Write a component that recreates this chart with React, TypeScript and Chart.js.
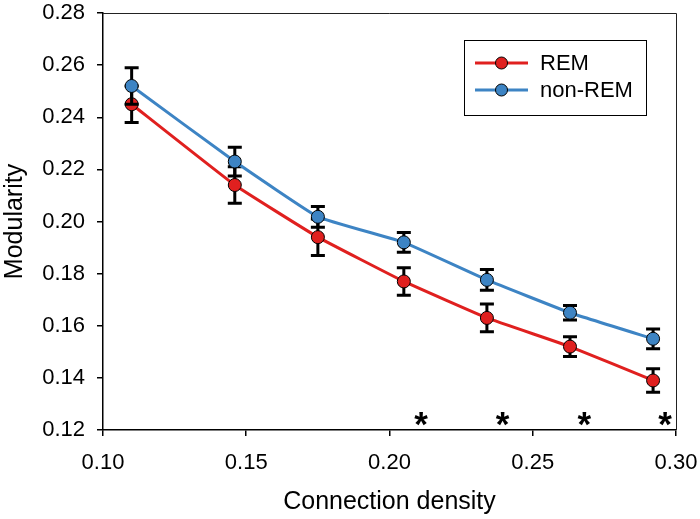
import React, { useEffect, useRef } from "react";
import { Chart, registerables } from "chart.js";

Chart.register(...registerables);

const xDensity = [0.11, 0.146, 0.175, 0.205, 0.234, 0.263, 0.292];
const remValues = [0.245, 0.214, 0.194, 0.177, 0.163, 0.152, 0.139];
const remErrors = [0.007, 0.007, 0.007, 0.0053, 0.0053, 0.0038, 0.0045];
const nonRemValues = [0.252, 0.223, 0.2018, 0.192, 0.1776, 0.165, 0.155];
const nonRemErrors = [0.007, 0.0055, 0.004, 0.0038, 0.004, 0.0028, 0.0038];
const sigX = [0.211, 0.2395, 0.268, 0.2962];
const sigY = [0.1255, 0.1255, 0.1255, 0.1255];
const xTicks = [0.1, 0.15, 0.2, 0.25, 0.3];
const yTicks = [0.12, 0.14, 0.16, 0.18, 0.2, 0.22, 0.24, 0.26, 0.28];

const RED = "#e0201f";
const BLUE = "#3d84c4";
const FONT = "'Liberation Sans', Arial, sans-serif";

const pts = (xs: number[], ys: number[]) => xs.map((x, i) => ({ x, y: ys[i] }));

const seriesPlugin = {
  id: "errorBarsEtc",
  beforeDatasetDraw(chart: any, args: any) {
    const ds = chart.data.datasets[args.index];
    if (!ds.errors) return;
    const { ctx } = chart;
    const xs = chart.scales.x;
    const ys = chart.scales.y;
    ctx.save();
    ctx.strokeStyle = "#000";
    ctx.lineWidth = 3;
    ctx.lineCap = "butt";
    ds.data.forEach((p: any, i: number) => {
      const e = ds.errors[i];
      const px = xs.getPixelForValue(p.x);
      const top = ys.getPixelForValue(p.y + e);
      const bot = ys.getPixelForValue(p.y - e);
      ctx.beginPath();
      ctx.moveTo(px, top);
      ctx.lineTo(px, bot);
      ctx.moveTo(px - 7, top);
      ctx.lineTo(px + 7, top);
      ctx.moveTo(px - 7, bot);
      ctx.lineTo(px + 7, bot);
      ctx.stroke();
    });
    ctx.restore();
  },
  afterDraw(chart: any) {
    const { ctx, chartArea } = chart;
    const xs = chart.scales.x;
    const ys = chart.scales.y;
    ctx.save();
    // frame top & right
    ctx.strokeStyle = "#222";
    ctx.lineWidth = 1;
    ctx.beginPath();
    ctx.moveTo(chartArea.left, chartArea.top + 0.5);
    ctx.lineTo(chartArea.right + 0.5, chartArea.top + 0.5);
    ctx.lineTo(chartArea.right + 0.5, chartArea.bottom);
    ctx.stroke();
    // significance asterisks
    ctx.fillStyle = "#000";
    ctx.font = `bold 35px ${FONT}`;
    ctx.textAlign = "center";
    ctx.textBaseline = "alphabetic";
    sigX.forEach((x, i) => {
      const px = xs.getPixelForValue(x);
      const py = ys.getPixelForValue(sigY[i]);
      ctx.fillText("*", px, py + 0.57 * 35);
    });
    // legend
    const bx = 464, by = 40, bw = 182, bh = 75;
    ctx.strokeStyle = "#000";
    ctx.lineWidth = 1;
    ctx.strokeRect(bx + 0.5, by + 0.5, bw, bh);
    const items = [
      { label: "REM", color: RED, y: 63 },
      { label: "non-REM", color: BLUE, y: 90 },
    ];
    items.forEach((it) => {
      ctx.strokeStyle = it.color;
      ctx.lineWidth = 3;
      ctx.beginPath();
      ctx.moveTo(475, it.y);
      ctx.lineTo(528, it.y);
      ctx.stroke();
      ctx.beginPath();
      ctx.arc(501.5, it.y, 6, 0, Math.PI * 2);
      ctx.fillStyle = it.color;
      ctx.fill();
      ctx.strokeStyle = "#000";
      ctx.lineWidth = 1;
      ctx.stroke();
      ctx.fillStyle = "#000";
      ctx.font = `22px ${FONT}`;
      ctx.textAlign = "left";
      ctx.textBaseline = "middle";
      ctx.fillText(it.label, 540, it.y + 1);
    });
    ctx.restore();
  },
};

export default function App() {
  const ref = useRef<HTMLCanvasElement>(null);
  useEffect(() => {
    if (!ref.current) return;
    const chart = new Chart(ref.current, {
      type: "line",
      data: {
        datasets: [
          {
            label: "REM line",
            data: pts(xDensity, remValues),
            borderColor: RED,
            borderWidth: 3,
            pointRadius: 0,
            tension: 0.1,
            order: 3,
          },
          {
            label: "REM",
            data: pts(xDensity, remValues),
            showLine: false,
            pointRadius: 6.5,
            pointBackgroundColor: RED,
            pointBorderColor: "#000",
            pointBorderWidth: 1,
            errors: remErrors,
            order: 2,
          } as any,
          {
            label: "non-REM line",
            data: pts(xDensity, nonRemValues),
            borderColor: BLUE,
            borderWidth: 3,
            pointRadius: 0,
            tension: 0.1,
            order: 1,
          },
          {
            label: "non-REM",
            data: pts(xDensity, nonRemValues),
            showLine: false,
            pointRadius: 6.5,
            pointBackgroundColor: BLUE,
            pointBorderColor: "#000",
            pointBorderWidth: 1,
            errors: nonRemErrors,
            order: 0,
          } as any,
        ],
      },
      options: {
        animation: false,
        responsive: false,
        maintainAspectRatio: false,
        layout: { padding: { top: 13, right: 24, left: 0, bottom: 0 } },
        plugins: {
          legend: { display: false },
          tooltip: { enabled: false },
        },
        scales: {
          x: {
            type: "linear",
            min: 0.1,
            max: 0.3,
            afterBuildTicks: (s: any) => {
              s.ticks = xTicks.map((v) => ({ value: v }));
            },
            afterFit: (s: any) => {
              s.height = 89;
              s.paddingLeft = 0;
              s.paddingRight = 0;
            },
            ticks: {
              color: "#000",
              font: { family: FONT, size: 22 },
              padding: 14,
              maxRotation: 0,
              callback: (v: any) => Number(v).toFixed(2),
            },
            grid: {
              display: true,
              drawOnChartArea: false,
              drawTicks: true,
              tickLength: 6,
              color: "#000",
              lineWidth: 1.5,
            },
            border: { display: true, color: "#000", width: 1.5 },
            title: {
              display: true,
              text: "Connection density",
              color: "#000",
              font: { family: FONT, size: 25 },
              padding: { top: 0, bottom: 2 },
            },
          },
          y: {
            type: "linear",
            min: 0.12,
            max: 0.28,
            afterBuildTicks: (s: any) => {
              s.ticks = yTicks.map((v) => ({ value: v }));
            },
            afterFit: (s: any) => {
              s.width = 103;
              s.paddingTop = 0;
              s.paddingBottom = 0;
            },
            ticks: {
              color: "#000",
              font: { family: FONT, size: 22 },
              padding: 12,
              callback: (v: any) => Number(v).toFixed(2),
            },
            grid: {
              display: true,
              drawOnChartArea: false,
              drawTicks: true,
              tickLength: 6,
              color: "#000",
              lineWidth: 1.5,
            },
            border: { display: true, color: "#000", width: 1.5 },
            title: {
              display: true,
              text: "Modularity",
              color: "#000",
              font: { family: FONT, size: 25 },
              padding: { top: 0, bottom: 0 },
            },
          },
        },
      },
      plugins: [seriesPlugin],
    });
    return () => chart.destroy();
  }, []);
  return (
    <div style={{ position: "fixed", left: 0, top: 0, width: 700, height: 519, background: "#fff" }}>
      <canvas ref={ref} width={700} height={519} style={{ width: 700, height: 519 }} />
    </div>
  );
}
